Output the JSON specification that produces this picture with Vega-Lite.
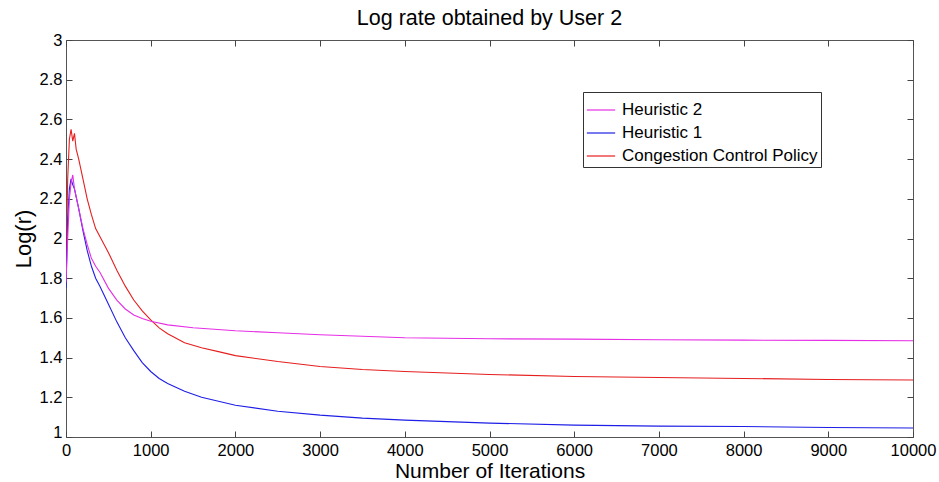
{
  "$schema": "https://vega.github.io/schema/vega-lite/v6.json",
  "width": 847,
  "height": 397,
  "autosize": {"type": "none"},
  "padding": {"left": 66, "top": 40, "right": 26, "bottom": 45},
  "background": "white",
  "config": {
    "font": "Liberation Sans",
    "view": {"stroke": "#555", "strokeWidth": 1},
    "axis": {"grid": false, "domain": false, "tickColor": "#444", "tickSize": -6, "labelColor": "#000", "labelFont": "Liberation Sans", "labelFontSize": 16.5, "titleFont": "Liberation Sans", "titleFontWeight": "normal", "titleColor": "#000", "titleFontSize": 21}
  },
  "title": {"text": "Log rate obtained by User 2", "font": "Liberation Sans", "fontSize": 21.5, "fontWeight": "normal", "color": "#000", "offset": 3},
  "data": {"values": [
    {"s": "Congestion Control Policy", "x": 0, "y": 1.85},
    {"s": "Congestion Control Policy", "x": 20, "y": 2.3},
    {"s": "Congestion Control Policy", "x": 40, "y": 2.5},
    {"s": "Congestion Control Policy", "x": 60, "y": 2.55},
    {"s": "Congestion Control Policy", "x": 80, "y": 2.49},
    {"s": "Congestion Control Policy", "x": 100, "y": 2.53},
    {"s": "Congestion Control Policy", "x": 120, "y": 2.45},
    {"s": "Congestion Control Policy", "x": 150, "y": 2.4},
    {"s": "Congestion Control Policy", "x": 200, "y": 2.3},
    {"s": "Congestion Control Policy", "x": 250, "y": 2.2},
    {"s": "Congestion Control Policy", "x": 300, "y": 2.12},
    {"s": "Congestion Control Policy", "x": 350, "y": 2.05},
    {"s": "Congestion Control Policy", "x": 400, "y": 2.01},
    {"s": "Congestion Control Policy", "x": 450, "y": 1.97},
    {"s": "Congestion Control Policy", "x": 500, "y": 1.93},
    {"s": "Congestion Control Policy", "x": 600, "y": 1.84},
    {"s": "Congestion Control Policy", "x": 700, "y": 1.76},
    {"s": "Congestion Control Policy", "x": 800, "y": 1.69},
    {"s": "Congestion Control Policy", "x": 900, "y": 1.635},
    {"s": "Congestion Control Policy", "x": 1000, "y": 1.59},
    {"s": "Congestion Control Policy", "x": 1100, "y": 1.55},
    {"s": "Congestion Control Policy", "x": 1200, "y": 1.52},
    {"s": "Congestion Control Policy", "x": 1400, "y": 1.475},
    {"s": "Congestion Control Policy", "x": 1600, "y": 1.45},
    {"s": "Congestion Control Policy", "x": 1800, "y": 1.43},
    {"s": "Congestion Control Policy", "x": 2000, "y": 1.41},
    {"s": "Congestion Control Policy", "x": 2500, "y": 1.38},
    {"s": "Congestion Control Policy", "x": 3000, "y": 1.355},
    {"s": "Congestion Control Policy", "x": 3500, "y": 1.34},
    {"s": "Congestion Control Policy", "x": 4000, "y": 1.33},
    {"s": "Congestion Control Policy", "x": 5000, "y": 1.315},
    {"s": "Congestion Control Policy", "x": 6000, "y": 1.305},
    {"s": "Congestion Control Policy", "x": 7000, "y": 1.3},
    {"s": "Congestion Control Policy", "x": 8000, "y": 1.295},
    {"s": "Congestion Control Policy", "x": 9000, "y": 1.29},
    {"s": "Congestion Control Policy", "x": 10000, "y": 1.287},
    {"s": "Heuristic 1", "x": 0, "y": 1.75},
    {"s": "Heuristic 1", "x": 20, "y": 2.1},
    {"s": "Heuristic 1", "x": 40, "y": 2.25},
    {"s": "Heuristic 1", "x": 60, "y": 2.3},
    {"s": "Heuristic 1", "x": 80, "y": 2.27},
    {"s": "Heuristic 1", "x": 100, "y": 2.25},
    {"s": "Heuristic 1", "x": 150, "y": 2.15},
    {"s": "Heuristic 1", "x": 200, "y": 2.04},
    {"s": "Heuristic 1", "x": 250, "y": 1.94},
    {"s": "Heuristic 1", "x": 300, "y": 1.86},
    {"s": "Heuristic 1", "x": 350, "y": 1.8},
    {"s": "Heuristic 1", "x": 400, "y": 1.76},
    {"s": "Heuristic 1", "x": 500, "y": 1.67},
    {"s": "Heuristic 1", "x": 600, "y": 1.58},
    {"s": "Heuristic 1", "x": 700, "y": 1.5},
    {"s": "Heuristic 1", "x": 800, "y": 1.435},
    {"s": "Heuristic 1", "x": 900, "y": 1.375},
    {"s": "Heuristic 1", "x": 1000, "y": 1.33},
    {"s": "Heuristic 1", "x": 1100, "y": 1.295},
    {"s": "Heuristic 1", "x": 1200, "y": 1.27},
    {"s": "Heuristic 1", "x": 1400, "y": 1.23},
    {"s": "Heuristic 1", "x": 1600, "y": 1.2},
    {"s": "Heuristic 1", "x": 1800, "y": 1.18},
    {"s": "Heuristic 1", "x": 2000, "y": 1.16},
    {"s": "Heuristic 1", "x": 2500, "y": 1.13},
    {"s": "Heuristic 1", "x": 3000, "y": 1.11},
    {"s": "Heuristic 1", "x": 3500, "y": 1.095},
    {"s": "Heuristic 1", "x": 4000, "y": 1.085},
    {"s": "Heuristic 1", "x": 5000, "y": 1.07},
    {"s": "Heuristic 1", "x": 6000, "y": 1.06},
    {"s": "Heuristic 1", "x": 7000, "y": 1.055},
    {"s": "Heuristic 1", "x": 8000, "y": 1.053},
    {"s": "Heuristic 1", "x": 9000, "y": 1.048},
    {"s": "Heuristic 1", "x": 10000, "y": 1.045},
    {"s": "Heuristic 2", "x": 0, "y": 1.78},
    {"s": "Heuristic 2", "x": 20, "y": 2.0},
    {"s": "Heuristic 2", "x": 40, "y": 2.2},
    {"s": "Heuristic 2", "x": 60, "y": 2.28},
    {"s": "Heuristic 2", "x": 80, "y": 2.32},
    {"s": "Heuristic 2", "x": 100, "y": 2.25},
    {"s": "Heuristic 2", "x": 150, "y": 2.15},
    {"s": "Heuristic 2", "x": 200, "y": 2.05},
    {"s": "Heuristic 2", "x": 250, "y": 1.97},
    {"s": "Heuristic 2", "x": 300, "y": 1.9},
    {"s": "Heuristic 2", "x": 350, "y": 1.86},
    {"s": "Heuristic 2", "x": 400, "y": 1.83},
    {"s": "Heuristic 2", "x": 500, "y": 1.75},
    {"s": "Heuristic 2", "x": 600, "y": 1.69},
    {"s": "Heuristic 2", "x": 700, "y": 1.645},
    {"s": "Heuristic 2", "x": 800, "y": 1.615},
    {"s": "Heuristic 2", "x": 900, "y": 1.597},
    {"s": "Heuristic 2", "x": 1000, "y": 1.583},
    {"s": "Heuristic 2", "x": 1200, "y": 1.565},
    {"s": "Heuristic 2", "x": 1500, "y": 1.55},
    {"s": "Heuristic 2", "x": 2000, "y": 1.535},
    {"s": "Heuristic 2", "x": 2500, "y": 1.525},
    {"s": "Heuristic 2", "x": 3000, "y": 1.515},
    {"s": "Heuristic 2", "x": 4000, "y": 1.5},
    {"s": "Heuristic 2", "x": 5000, "y": 1.495},
    {"s": "Heuristic 2", "x": 6000, "y": 1.493},
    {"s": "Heuristic 2", "x": 7000, "y": 1.49},
    {"s": "Heuristic 2", "x": 8000, "y": 1.488},
    {"s": "Heuristic 2", "x": 9000, "y": 1.487},
    {"s": "Heuristic 2", "x": 10000, "y": 1.485}
  ]},
  "layer": [
    {
      "mark": {"type": "line", "strokeWidth": 1.1, "clip": true},
      "encoding": {
        "x": {"field": "x", "type": "quantitative", "scale": {"domain": [0, 10000], "nice": false, "zero": false},
              "axis": {"orient": "bottom", "title": "Number of Iterations", "values": [0,1000,2000,3000,4000,5000,6000,7000,8000,9000,10000], "format": "d", "labelPadding": 11, "titlePadding": 2, "labelFlush": false}},
        "y": {"field": "y", "type": "quantitative", "scale": {"domain": [1, 3], "nice": false, "zero": false},
              "axis": {"orient": "left", "title": "Log(r)", "titleFontSize": 22, "values": [1,1.2,1.4,1.6,1.8,2,2.2,2.4,2.6,2.8,3], "format": "~g", "labelPadding": 10, "titlePadding": 4, "labelFlush": false,
                       "labelBaseline": {"condition": {"test": "datum.value == 1", "value": "alphabetic"}, "value": "middle"}}},
        "color": {"field": "s", "type": "nominal",
          "scale": {"domain": ["Heuristic 2", "Heuristic 1", "Congestion Control Policy"], "range": ["#e62ee6", "#1e1ee6", "#e61e1e"]},
          "legend": {"title": null, "orient": "none", "legendX": 517, "legendY": 52, "symbolType": "stroke", "symbolSize": 800, "symbolStrokeWidth": 1.2, "labelFontSize": 17, "labelLimit": 0, "labelColor": "#000", "labelFont": "Liberation Sans", "rowPadding": -2, "strokeColor": "#333", "fillColor": "white", "padding": 3, "labelOffset": 6,
                     "encode": {"symbols": {"update": {"stroke": {"scale": "color", "field": "value"}}}}}}
      }
    },
    {
      "mark": {"type": "point", "opacity": 0},
      "encoding": {
        "x": {"field": "x", "type": "quantitative", "scale": {"domain": [0, 10000], "nice": false, "zero": false},
              "axis": {"orient": "top", "title": null, "labels": false, "values": [0,1000,2000,3000,4000,5000,6000,7000,8000,9000,10000]}},
        "y": {"field": "y", "type": "quantitative", "scale": {"domain": [1, 3], "nice": false, "zero": false},
              "axis": {"orient": "right", "title": null, "labels": false, "values": [1,1.2,1.4,1.6,1.8,2,2.2,2.4,2.6,2.8,3]}}
      }
    }
  ],
  "resolve": {"axis": {"x": "independent", "y": "independent"}}
}
